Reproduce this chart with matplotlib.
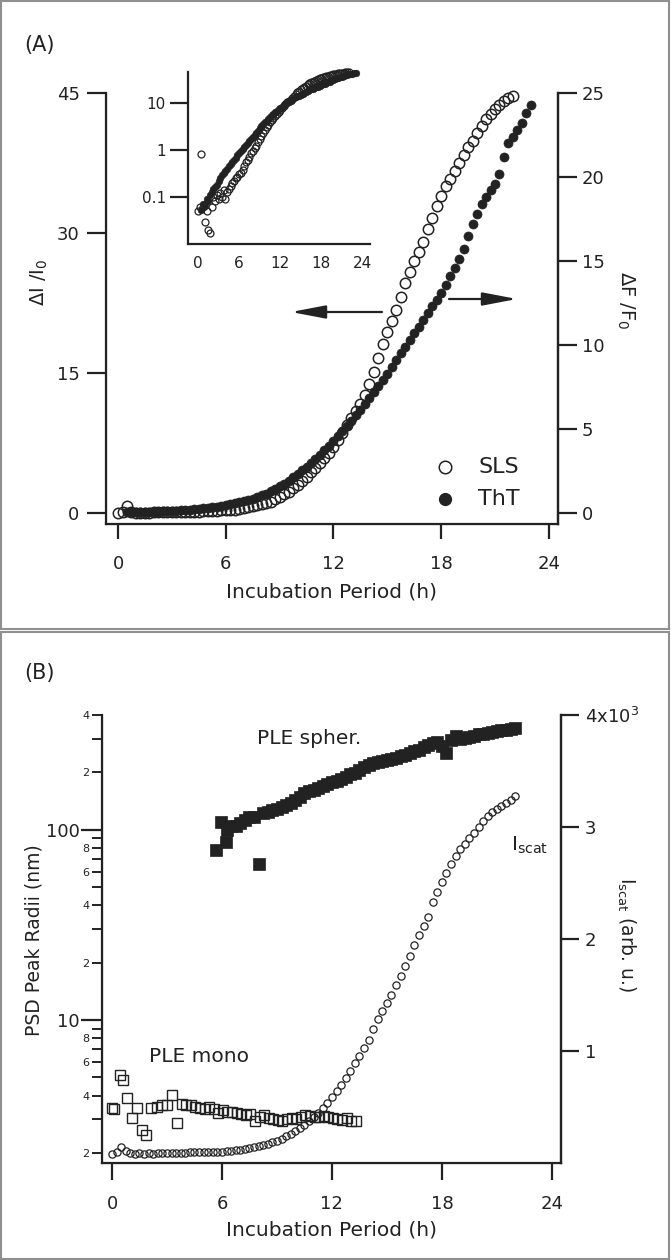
import matplotlib
matplotlib.use('Agg')
import matplotlib.pyplot as plt
import numpy as np
from matplotlib.patches import Rectangle
from matplotlib.ticker import FixedLocator, FixedFormatter, NullLocator

# ---------------- data ----------------
# (A) SLS, sampled every 0.25 h from 0 to 22 h
sls_t = np.arange(0, 22.01, 0.25)
sls_v = [0.05, 0.06, 0.8, 0.06, 0.03, 0.05, 0.02, 0.017, 0.06, 0.1,
         0.08, 0.11, 0.09, 0.12, 0.1, 0.14, 0.09, 0.13, 0.15, 0.17,
         0.2, 0.22, 0.25, 0.27, 0.3, 0.33, 0.37, 0.45, 0.55, 0.62,
         0.72, 0.84, 0.95, 1.07, 1.2, 1.45, 1.7, 2.0, 2.3, 2.65,
         3.0, 3.4, 3.85, 4.35, 4.85, 5.35, 5.85, 6.4, 7.1, 7.8,
         8.6, 9.4, 10.2, 10.9, 11.7, 12.6, 13.8, 15.1, 16.6, 18.1,
         19.4, 20.6, 21.8, 23.1, 24.6, 25.8, 27.0, 28.0, 29.0, 30.4,
         31.6, 32.9, 34.0, 35.0, 35.8, 36.6, 37.5, 38.4, 39.2, 39.9,
         40.7, 41.5, 42.2, 42.8, 43.3, 43.7, 44.1, 44.5, 44.7]

# (A) ThT, sampled every 0.25 h from 0.5 to 23 h
tht_t = np.arange(0.5, 23.01, 0.25)
tht_f = [0.03, 0.04, 0.035, 0.05, 0.045, 0.06, 0.07, 0.08, 0.09, 0.1,
         0.12, 0.14, 0.16, 0.18, 0.2, 0.22, 0.25, 0.28, 0.31, 0.34,
         0.38, 0.43, 0.48, 0.52, 0.57, 0.63, 0.7, 0.77, 0.86, 0.95,
         1.05, 1.15, 1.28, 1.42, 1.58, 1.75, 1.93, 2.12, 2.32, 2.53,
         2.75, 2.98, 3.22, 3.47, 3.73, 4.0, 4.28, 4.57, 4.87, 5.18,
         5.5, 5.82, 6.15, 6.5, 6.85, 7.2, 7.55, 7.9, 8.3, 8.7,
         9.1, 9.5, 9.9, 10.3, 10.7, 11.1, 11.5, 11.9, 12.3, 12.7,
         13.1, 13.6, 14.1, 14.6, 15.1, 15.7, 16.5, 17.2, 17.8, 18.4,
         18.8, 19.2, 19.6, 20.2, 21.2, 22.0, 22.4, 22.8, 23.2, 23.8,
         24.3]

# (B) scattered intensity, every 0.25 h from 0 to 22 h
isc_t = np.arange(0, 22.01, 0.25)
isc_v = [80, 100, 140, 110, 85, 80, 85, 80, 85, 80,
         85, 88, 85, 90, 88, 90, 92, 95, 95, 98,
         100, 100, 102, 100, 102, 105, 108, 112, 118, 125,
         132, 140, 150, 160, 172, 185, 200, 218, 238, 260,
         285, 312, 342, 375, 410, 448, 490, 535, 585, 640,
         700, 760, 825, 890, 955, 1025, 1100, 1200, 1290, 1360,
         1430, 1500, 1585, 1670, 1760, 1850, 1950, 2040, 2120, 2200,
         2330, 2420, 2510, 2590, 2670, 2740, 2800, 2850, 2900, 2950,
         3000, 3050, 3095, 3130, 3160, 3190, 3215, 3245, 3275]

# (B) PLE spherulites
sph_t = [5.65, 5.95, 6.2, 8.0,
         6.25, 6.5, 6.75, 7.0, 7.25, 7.5, 7.75, 8.25, 8.5, 8.75,
         9.0, 9.25, 9.5, 9.75, 10.0, 10.25, 10.5, 10.75, 11.0, 11.25,
         11.5, 11.75, 12.0, 12.25, 12.5, 12.75, 13.0, 13.25, 13.5, 13.75,
         14.0, 14.25, 14.5, 14.75, 15.0, 15.25, 15.5, 15.75, 16.0, 16.25,
         16.5, 16.75, 17.0, 17.25, 17.5, 17.75, 18.0, 18.25, 18.5, 18.75,
         19.0, 19.25, 19.5, 19.75, 20.0, 20.25, 20.5, 20.75, 21.0, 21.25,
         21.5, 21.75, 22.0]
sph_r = [78, 110, 86, 66,
         100, 104, 105, 108, 112, 116, 117, 122, 124, 126,
         128, 131, 134, 138, 143, 149, 155, 159, 162, 166,
         170, 174, 178, 181, 185, 190, 195, 199, 206, 213,
         219, 224, 227, 230, 233, 236, 239, 243, 248, 253,
         258, 263, 270, 278, 284, 288, 276, 254, 296, 310,
         300, 304, 308, 312, 316, 318, 322, 326, 329, 332,
         334, 337, 340]

# (B) PLE mono
mono_t = [0.0, 0.12, 0.43, 0.62, 0.8, 1.1, 1.35, 1.65, 1.85, 2.15,
          2.45, 2.75, 3.0, 3.3, 3.55, 3.8, 4.05, 4.3, 4.55, 4.8,
          5.05, 5.3, 5.55, 5.8, 6.05, 6.3, 6.55, 6.8, 7.05, 7.3,
          7.55, 7.8, 8.05, 8.3, 8.55, 8.8, 9.05, 9.3, 9.55, 9.8,
          10.05, 10.3, 10.55, 10.8, 11.05, 11.3, 11.55, 11.8, 12.05, 12.3,
          12.55, 12.8, 13.05, 13.3]
mono_r = [3.45, 3.4, 5.13, 4.83, 3.87, 3.04, 3.44, 2.64, 2.48, 3.44,
          3.5, 3.55, 3.57, 4.03, 2.86, 3.6, 3.55, 3.55, 3.5, 3.45,
          3.4, 3.5, 3.4, 3.25, 3.35, 3.3, 3.3, 3.25, 3.2, 3.15,
          3.2, 2.95, 3.1, 3.15, 3.05, 3.0, 2.98, 2.95, 3.0, 3.05,
          3.0, 3.1, 3.15, 3.12, 3.1, 3.1, 3.12, 3.1, 3.05, 3.0,
          2.98, 3.05, 2.95, 2.95]

x_ticks = [0, 6, 12, 18, 24]

# ---------------- figure ----------------
W, H = 671, 1260
ink = '#222222'
plt.rcParams['font.family'] = ['DejaVu Sans']
plt.rcParams['text.color'] = ink
plt.rcParams['axes.edgecolor'] = ink
plt.rcParams['xtick.color'] = ink
plt.rcParams['ytick.color'] = ink

fig = plt.figure(figsize=(W / 100, H / 100), dpi=100)


def box(l, t, r, b):
    # pixel box -> figure fraction
    return [l / W, 1 - b / H, (r - l) / W, (b - t) / H]


def fx(x):
    return x / W


def fy(y):
    return 1 - y / H


# panel frames
for top, bot in [(1, 629), (632, 1259)]:
    fig.patches.append(Rectangle((fx(1), fy(bot)), fx(668), (bot - top) / H,
                                 transform=fig.transFigure, fill=False,
                                 edgecolor='#8f8f8f', lw=1.5))


def style_frame(ax, right=True):
    ax.spines['top'].set_visible(False)
    for s in ['left', 'bottom', 'right']:
        ax.spines[s].set_linewidth(1.6)
    if not right:
        ax.spines['right'].set_visible(False)


# ---------------- panel A ----------------
axA = fig.add_axes(box(106, 93, 558, 524))
axA.set_facecolor('none')
axA.set_xlim(-0.67, 24.51)
axA.set_ylim(-1.18, 45)
style_frame(axA)
axA2 = axA.twinx()
axA2.set_ylim(-0.655, 25)
axA2.spines['top'].set_visible(False)
axA2.spines['right'].set_linewidth(1.6)

axA.plot(sls_t, sls_v, 'o', ms=7.5, mfc='none', mec=ink, mew=1.1, clip_on=False)
axA2.plot(tht_t, tht_f, 'o', ms=6.5, mfc=ink, mec=ink, mew=0.5, clip_on=False)

axA.set_xticks(x_ticks)
axA.set_yticks([0, 15, 30, 45])
axA2.set_yticks([0, 5, 10, 15, 20, 25])
axA.tick_params(axis='x', direction='out', length=11, width=1.6, pad=11, labelsize=13)
axA.tick_params(axis='y', direction='out', length=14, width=1.6, pad=5, labelsize=13)
axA2.tick_params(axis='y', direction='out', length=14, width=1.6, pad=3, labelsize=13)

fig.text(fx(39), fy(282), 'ΔI /I$_0$', rotation=90, ha='center', va='center', fontsize=14)
fig.text(fx(626), fy(300), 'ΔF /F$_0$', rotation=270, ha='center', va='center', fontsize=14)
fig.text(fx(332), fy(592), 'Incubation Period (h)', ha='center', va='center', fontsize=14.5)
fig.text(fx(24), fy(45), '(A)', ha='left', va='center', fontsize=15)

# legend
axA.plot([fx(445)], [fy(467)], 'o', ms=9, mfc='none', mec=ink, mew=1.1,
         transform=fig.transFigure, clip_on=False)
axA.plot([fx(445)], [fy(499)], 'o', ms=8.5, mfc=ink, mec=ink,
         transform=fig.transFigure, clip_on=False)
fig.text(fx(478), fy(467), 'SLS', ha='left', va='center', fontsize=16)
fig.text(fx(478), fy(499), 'ThT', ha='left', va='center', fontsize=16)

# arrows
arr = dict(arrowstyle='-|>,head_length=1.05,head_width=0.2', lw=1.6, color=ink,
           mutation_scale=20, shrinkA=0, shrinkB=0)
fig.add_artist(plt.Annotation('', xy=(fx(291), fy(312)), xytext=(fx(382), fy(312)),
                              xycoords='figure fraction', arrowprops=arr))
fig.add_artist(plt.Annotation('', xy=(fx(517), fy(299)), xytext=(fx(449), fy(299)),
                              xycoords='figure fraction', arrowprops=arr))

# inset (log)
axI = fig.add_axes(box(188, 72, 370, 244))
axI.set_facecolor('none')
axI.set_yscale('log')
axI.set_xlim(-1.46, 25.1)
axI.set_ylim(0.01, 45)
for s in ['top', 'right']:
    axI.spines[s].set_visible(False)
for s in ['left', 'bottom']:
    axI.spines[s].set_linewidth(1.6)
tht_scaled = np.array(tht_f) * 45 / 25
axI.plot(tht_t, tht_scaled, 'o', ms=4.8, mfc=ink, mec=ink, mew=0.4, clip_on=False)
axI.plot(sls_t, sls_v, 'o', ms=5, mfc='none', mec=ink, mew=0.9, clip_on=False)
axI.yaxis.set_major_locator(FixedLocator([0.1, 1, 10]))
axI.yaxis.set_major_formatter(FixedFormatter(['0.1', '1', '10']))
axI.yaxis.set_minor_locator(NullLocator())
axI.set_xticks(x_ticks)
axI.tick_params(axis='x', length=0, pad=9, labelsize=11)
axI.tick_params(axis='y', direction='out', length=13, width=1.6, pad=3, labelsize=11)

# ---------------- panel B ----------------
axB = fig.add_axes(box(102, 715, 561, 1163))
axB.set_facecolor('none')
axB.set_yscale('log')
axB.set_xlim(-0.546, 24.5)
axB.set_ylim(1.77, 400)
style_frame(axB)
axB2 = axB.twinx()
axB2.set_ylim(0, 4000)
axB2.spines['top'].set_visible(False)
axB2.spines['right'].set_linewidth(1.6)

axB2.plot(isc_t, isc_v, 'o', ms=5.2, mfc='none', mec=ink, mew=0.9, clip_on=False)
axB.plot(sph_t, sph_r, 's', ms=8, mfc=ink, mec=ink, mew=0.5, clip_on=False)
axB.plot(mono_t, mono_r, 's', ms=7, mfc='none', mec=ink, mew=1.0, clip_on=False)

axB.set_xticks(x_ticks)
axB.yaxis.set_major_locator(FixedLocator([10, 100]))
axB.yaxis.set_major_formatter(FixedFormatter(['10', '100']))
minor_vals = [2, 3, 4, 5, 6, 7, 8, 9, 20, 30, 40, 50, 60, 70, 80, 90, 200, 300, 400]
minor_labs = ['2', '', '4', '', '6', '', '8', '', '2', '', '4', '', '6', '', '8', '', '2', '', '4']
axB.yaxis.set_minor_locator(FixedLocator(minor_vals))
axB.yaxis.set_minor_formatter(FixedFormatter(minor_labs))
axB.tick_params(axis='x', direction='out', length=12, width=1.6, pad=11, labelsize=13)
axB.tick_params(axis='y', which='major', direction='out', length=15, width=1.6, pad=1, labelsize=13)
axB.tick_params(axis='y', which='minor', direction='out', length=7, width=1.4, pad=2, labelsize=8)

axB2.yaxis.set_major_locator(FixedLocator([1000, 2000, 3000, 4000]))
axB2.yaxis.set_major_formatter(FixedFormatter(['1', '2', '3', '4x10$^3$']))
axB2.tick_params(axis='y', direction='out', length=13, width=1.6, pad=4, labelsize=13)

fig.text(fx(34), fy(940), 'PSD Peak Radii (nm)', rotation=90, ha='center', va='center', fontsize=13.5)
fig.text(fx(626), fy(935), r'I$_{\mathrm{scat}}$ (arb. u.)', rotation=270, ha='center', va='center', fontsize=13.5)
fig.text(fx(332), fy(1230), 'Incubation Period (h)', ha='center', va='center', fontsize=14.5)
fig.text(fx(24), fy(673), '(B)', ha='left', va='center', fontsize=15)
fig.text(fx(309), fy(738), 'PLE spher.', ha='center', va='center', fontsize=14.5)
fig.text(fx(511), fy(845), r'I$_{\mathrm{scat}}$', ha='left', va='center', fontsize=14.5)
fig.text(fx(199), fy(1057), 'PLE mono', ha='center', va='center', fontsize=14.5)

fig.savefig('out.png', dpi=100)
